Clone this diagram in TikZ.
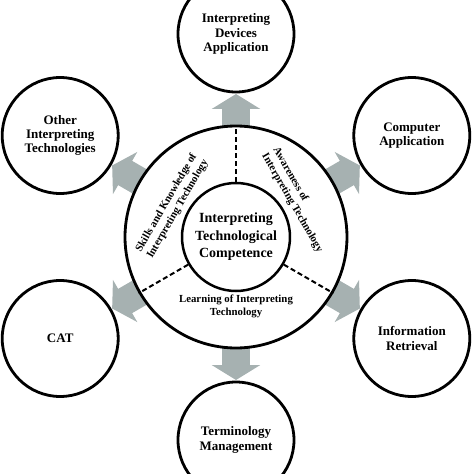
\documentclass[tikz,border=0pt]{standalone}
\usepackage{fontspec}
\setmainfont{Liberation Serif}
\usetikzlibrary{arrows.meta,backgrounds}
\definecolor{arrowgray}{RGB}{166,177,177}
\begin{document}
\begin{tikzpicture}[x=1pt,y=1pt, line join=round,
	outer/.style={draw,circle,line width=2.8pt,minimum size=116pt,inner sep=0pt,align=center,font=\bfseries\fontsize{13}{14.3}\selectfont},
	part/.style={font=\bfseries\fontsize{10.8}{12.8}\selectfont,inner sep=0pt},
	flow/.style={arrowgray,line width=28pt,-{Triangle[length=15pt 0 0,width=48pt 0]},shorten <=-8pt,shorten >=0.6pt},
	sep/.style={line width=2pt,dash pattern=on 5pt off 3pt}]
	\useasboundingbox (-236,-237) rectangle (238,237);
	\node[draw,circle,fill=white,line width=2.8pt,minimum size=222pt] (ring) at (0,0) {};
	\node[draw,circle,fill=white,line width=2.5pt,minimum size=108pt,inner sep=0pt,align=center,font=\bfseries\fontsize{14}{17.5}\selectfont] (core) at (0,0) {Interpreting\\Technological\\Competence};
	\node[outer] (devices) at (90:203) {Interpreting\\Devices\\Application};
	\node[outer] (computer) at (30:203) {Computer\\Application};
	\node[outer] (retrieval) at (-30:203) {Information\\Retrieval};
	\node[outer] (terminology) at (-90:203) {Terminology\\Management};
	\node[outer] (cat) at (210:203) {CAT};
	\node[outer] (othertech) at (150:203) {Other\\Interpreting\\Technologies};
	% dashed borders between the three parts of the ring
	\foreach \a in {90,210,330} \draw[sep] (core.\a) -- (ring.\a);
	\node[part,align=left,rotate=60] (skills) at (154:71) {Skills and Knowledge of\\Interpreting Technology};
	\node[part,align=left,rotate=-60] (awareness) at (31:72) {Awareness of\\Interpreting Technology};
	\node[part,align=center] (learning) at (0,-69) {Learning of Interpreting\\Technology};
	\begin{scope}[on background layer]
	\foreach \n in {devices,computer,retrieval,terminology,cat,othertech} \draw[flow] (ring) -- (\n);
	\end{scope}
\end{tikzpicture}
\end{document}
